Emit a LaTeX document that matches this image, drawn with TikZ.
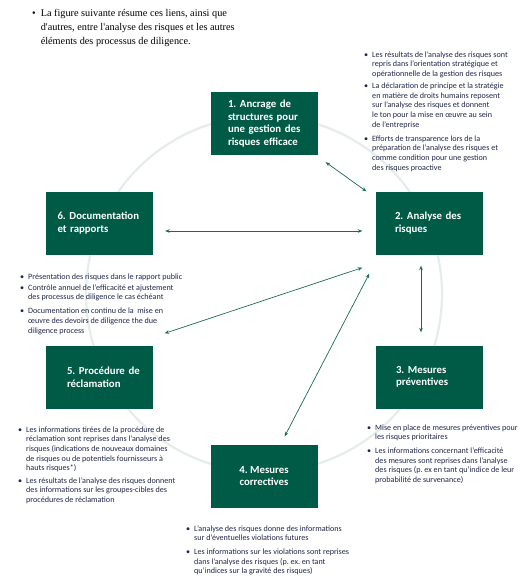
\documentclass[tikz,border=0pt]{standalone}
\usepackage{fontspec}
\setmainfont{Carlito}
\newfontfamily\introfont{Liberation Serif}
\usetikzlibrary{arrows.meta}
\frenchspacing

\definecolor{boxgreen}{RGB}{0,91,70}
\definecolor{linkgreen}{RGB}{22,108,80}
\definecolor{notenavy}{RGB}{30,38,72}
\definecolor{ringgray}{RGB}{230,236,234}

\tikzset{
  stage/.style={fill=boxgreen, text=white, minimum width=107pt, minimum height=63pt,
    inner sep=0pt, align=left, font=\fontsize{10.8}{12.5}\selectfont\bfseries},
  link/.style={linkgreen, line width=0.7pt,
    {Stealth[length=4.5pt,width=3.6pt]}-{Stealth[length=4.5pt,width=3.6pt]}},
  note/.style={anchor=base west, inner sep=0pt, text=notenavy,
    font=\fontsize{8.1}{9.7}\selectfont},
}

\begin{document}
\begin{tikzpicture}[x=1pt,y=-1pt]
        \useasboundingbox (0,0) rectangle (520,586);

        % intro line
        \node[anchor=base west, inner sep=0pt, font=\introfont\fontsize{10.25}{14}\selectfont] (intro) at (32,17)
          {\begin{tabular}[t]{@{}l@{\hspace{5pt}}l@{}}
           \textbullet & La figure suivante résume ces liens, ainsi que\\
           & d'autres, entre l'analyse des risques et les autres\\
           & éléments des processus de diligence.
           \end{tabular}};

        % ring behind the stages
        \draw[ringgray, line width=2.2pt] (264,294) circle (178);

        % the six stages
        \node[stage, text width=72pt] (anchorage) at (264,123.5)
          {\mbox{1. Ancrage de}\\ \mbox{structures pour}\\ \mbox{une gestion des}\\ \mbox{risques efficace}};
        \node[stage, text width=68pt] (analysis) at (429,223) {\mbox{2. Analyse des}\\ risques};
        \node[stage, text width=66pt] (prevention) at (429,377) {\mbox{3. Mesures}\\ préventives};
        \node[stage, align=center] (correction) at (264,476) {4. Mesures\\ correctives};
        \node[stage, text width=64pt] (complaints) at (99,377) {\mbox{5. Procédure de}\\ réclamation};
        \node[stage, text width=84pt] (reporting) at (99.5,223) {\mbox{6. Documentation}\\ et rapports};

        % links
        \draw[link] ([shift={(8,7)}]anchorage.south east) -- ([shift={(-9,0)}]analysis.north west);
        \draw[link] ([shift={(12,8)}]reporting.east) -- ([shift={(-13,8)}]analysis.west);
        \draw[link] ([shift={(12,-12)}]complaints.north east) -- ([shift={(-13,13)}]analysis.south west);
        \draw[link] ([shift={(-33,-8)}]correction.north east) -- ([shift={(-6,19)}]analysis.south west);
        \draw[link] ([shift={(-8,11)}]analysis.south) -- ([shift={(-8,-13)}]prevention.north);

        % notes
        \node[note] (analysisnote) at (364,57)
          {\begin{tabular}[t]{@{}l@{\hspace{4pt}}l@{}}
           \textbullet & Les résultats de l'analyse des risques sont\\
           & repris dans l'orientation stratégique et\\
           & opérationnelle de la gestion des risques\\[2.5pt]
           \textbullet & La déclaration de principe et la stratégie\\
           & en matière de droits humains reposent\\
           & sur l'analyse des risques et donnent\\
           & le ton pour la mise en œuvre au sein\\
           & de l'entreprise\\[4pt]
           \textbullet & Efforts de transparence lors de la\\
           & préparation de l'analyse des risques et\\
           & comme condition pour une gestion\\
           & des risques proactive
           \end{tabular}};
        \node[note] (reportingnote) at (20,279)
          {\begin{tabular}[t]{@{}l@{\hspace{4pt}}l@{}}
           \textbullet & Présentation des risques dans le rapport public\\[1.5pt]
           \textbullet & Contrôle annuel de l'efficacité et ajustement\\
           & des processus de diligence le cas échéant\\[4pt]
           \textbullet & Documentation en continu de la\ \ mise en\\
           & œuvre des devoirs de diligence the due\\
           & diligence process
           \end{tabular}};
        \node[note] (complaintsnote) at (18,432)
          {\begin{tabular}[t]{@{}l@{\hspace{4pt}}l@{}}
           \textbullet & Les informations tirées de la procédure de\\
           & réclamation sont reprises dans l'analyse des\\
           & risques (indications de nouveaux domaines\\
           & de risques ou de potentiels fournisseurs à\\
           & hauts risques*)\\[2.5pt]
           \textbullet & Les résultats de l'analyse des risques donnent\\
           & des informations sur les groupes-cibles des\\
           & procédures de réclamation
           \end{tabular}};
        \node[note] (preventionnote) at (367,430)
          {\begin{tabular}[t]{@{}l@{\hspace{4pt}}l@{}}
           \textbullet & Mise en place de mesures préventives pour\\
           & les risques prioritaires\\[4pt]
           \textbullet & Les informations concernant l'efficacité\\
           & des mesures sont reprises dans l'analyse\\
           & des risques (p. ex en tant qu'indice de leur\\
           & probabilité de survenance)
           \end{tabular}};
        \node[note] (correctionnote) at (186,531)
          {\begin{tabular}[t]{@{}l@{\hspace{4pt}}l@{}}
           \textbullet & L'analyse des risques donne des informations\\
           & sur d'éventuelles violations futures\\[4pt]
           \textbullet & Les informations sur les violations sont reprises\\
           & dans l'analyse des risques (p. ex. en tant\\
           & qu'indices sur la gravité des risques)
           \end{tabular}};

      \end{tikzpicture}
\end{document}
